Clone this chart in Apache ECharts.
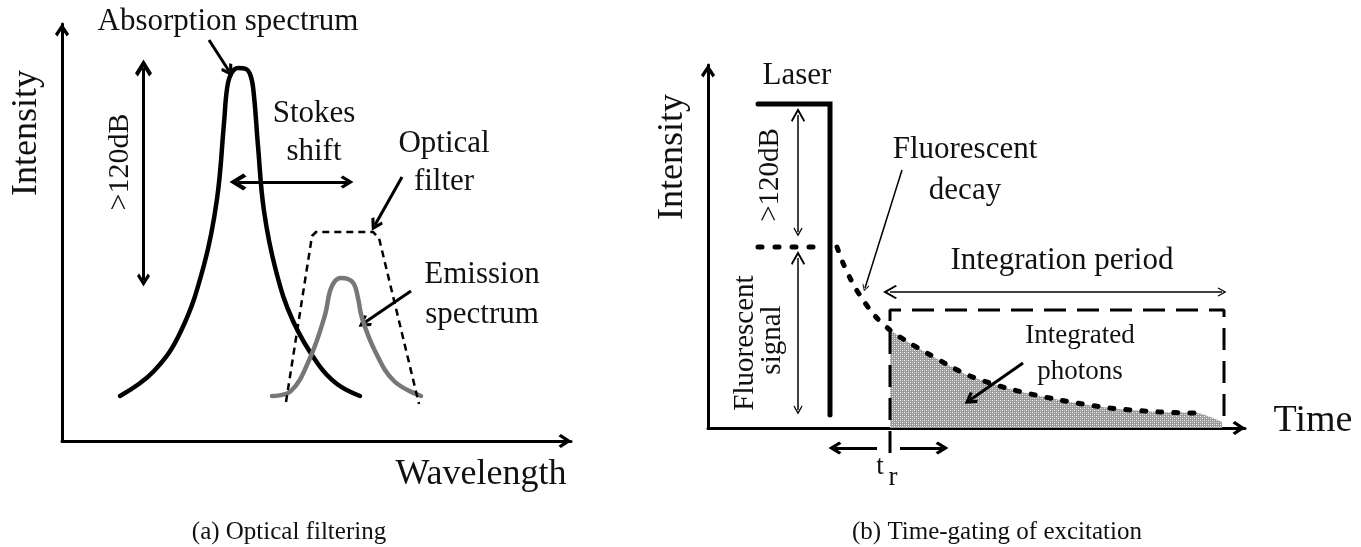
<!DOCTYPE html>
<html><head><meta charset="utf-8">
<script src="https://cdn.jsdelivr.net/npm/echarts@6/dist/echarts.min.js"></script>
<style>html,body{margin:0;padding:0;background:#fff}#c{width:1361px;height:547px}</style>
</head><body><div id="c"></div>
<script>
// ---------- Panel (a): Optical filtering (x = wavelength units, y = intensity units) ----------
const absorptionSpectrum = [[58,45],[92,70],[119,110],[142,176],[155,242],[162,318],[165,352],[169,367],[176,373],[184,372],[189,364],[192,345],[196,295],[202,230],[214,170],[231,120],[256,77],[275,57],[298,45]];
const emissionSpectrum = [[210,45],[229,50],[248,83],[263,126],[268,150],[273,160],[279,163],[286,162],[292,157],[296,143],[300,123],[313,90],[332,60],[359,45]];
const opticalFilter = [[224,39],[250,205],[254,209],[311,209],[317,203],[357,37]];
const pointerArrowsA = [[[147,401],[167,370]], [[340,264],[313,216]], [[349,150],[302,118]]];
const doubleArrowsA = [[[81.5,373],[81.5,161]], [[176,259],[285,259]]];
const labelsA = [["Absorption spectrum",166,419],["Stokes",252,327],["shift",252,289],["Optical",382,297],["filter",382,259],["Emission",420,166],["spectrum",420,126]];
const rotatedLabelsA = [[">120dB",58,279]];
const axisNamesA = {y:["Intensity",-35,308], x:["Wavelength",419,-34]};

// ---------- Panel (b): Time-gating (x = time units, y = intensity units) ----------
const laserPulse = [[50,324],[122,324],[122,13]];
const fluorescentLevel = [[50,181],[109,181]];
const fluorescentDecay = [[129,181],[135,165],[142,150],[148,139],[155,128],[167,112],[182,98],[200,86],[219,75],[240,63],[262,52],[302,39],[352,28],[402,20],[452,16],[489,15]];
const gateStart = 182, gateEnd = 516, gateTop = 118;
const integratedTail = [[514,6]];
const integrationWindow = [[gateStart,-25],[gateStart,gateTop],[gateEnd,gateTop],[gateEnd,0]];
const doubleArrowsB = [[[90,313],[90,196]], [[90,170],[90,18]], [[182,136],[514,136]]];
const thinPointersB = [[[194,258],[157,140]]];
const thickPointersB = [[[315,65],[262,28]], [[169,-20],[127,-20]], [[192,-20],[234,-20]]];
const labelsB = [["Laser",89,352],["Fluorescent",257,278],["decay",257,237],["Integration period",354,167]];
const smallLabelsB = [["Integrated",372,92],["photons",372,56]];
const rotatedLabelsB = [[">120dB",62,253],["Fluorescent",37,85],["signal",64,88]];
const axisNamesB = {y:["Intensity",-35,271], x:["Time",605,7]};
const gateLabel = [["t",172,-39],["r",185,-50]];
const captions = ["(a) Optical filtering", "(b) Time-gating of excitation"];

// ---------- drawing ----------
const FONT = '"Liberation Serif","Times New Roman",serif';
const INK = '#111';
const CHEV = 'path://M5,0L10,7.5L8.3,9.2L5,4.2L1.7,9.2L0,7.5Z';
const CHEV_THIN = 'path://M5,0L10,8L9.1,8.9L5,2.6L0.9,8.9L0,8Z';

const chart = echarts.init(document.getElementById('c'), null, {renderer:'canvas'});

function mkAxis(grid, max){
  return {gridIndex:grid, type:'value', min:0, max:max,
    axisLine:{show:true, onZero:false, symbol:['none',CHEV], symbolSize:[22,13], symbolOffset:[0,-6],
      lineStyle:{color:'#000', width:3}},
    axisTick:{show:false}, axisLabel:{show:false}, splitLine:{show:false}};
}
function curve(grid, data, style, smooth, extra){
  return Object.assign({type:'line', xAxisIndex:grid, yAxisIndex:grid, data:data, symbol:'none', smooth:smooth,
    clip:false, silent:true, lineStyle:style}, extra||{});
}
function arrows(grid, list, syms, style, size){
  return {type:'lines', coordinateSystem:'cartesian2d', xAxisIndex:grid, yAxisIndex:grid, clip:false, silent:true,
    symbol:syms, symbolSize:size, lineStyle:Object.assign({opacity:1, curveness:0}, style),
    data:list.map(c=>({coords:c}))};
}

// dotted pattern for integrated photons
const pat = document.createElement('canvas'); pat.width = 4; pat.height = 4;
const pc = pat.getContext('2d');
pc.fillStyle = '#9a9a9a'; pc.fillRect(0,0,4,4);
pc.fillStyle = '#f4f4f4'; pc.fillRect(0,0,1,1); pc.fillRect(2,2,1,1);
pc.fillStyle = '#d0d0d0'; pc.fillRect(2,0,1,1); pc.fillRect(0,2,1,1);

const shaded = fluorescentDecay.filter(p=>p[0]>=gateStart).concat(integratedTail);

chart.setOption({
  animation:false,
  backgroundColor:'#fff',
  grid:[{left:62, top:24, width:509, height:417},{left:708, top:65, width:537, height:363}],
  xAxis:[mkAxis(0,509), mkAxis(1,537)],
  yAxis:[mkAxis(0,417), mkAxis(1,363)],
  series:[
    curve(0, absorptionSpectrum, {color:'#000', width:4.5, cap:'round'}, 0.4),
    curve(0, emissionSpectrum, {color:'#777', width:4.5, cap:'round'}, 0.4),
    curve(0, opticalFilter, {color:'#000', width:2.5, type:[7,5]}, false),
    arrows(0, pointerArrowsA, ['none',CHEV], {color:'#000', width:3}, [17,13]),
    arrows(0, doubleArrowsA, [CHEV,CHEV], {color:'#000', width:3}, [17,13]),

    curve(1, shaded, {width:0, opacity:0}, 0.3, {areaStyle:{color:{image:pat, repeat:'repeat'}, opacity:1}, z:1}),
    curve(1, laserPulse, {color:'#000', width:5, join:'miter', cap:'round'}, false),
    curve(1, fluorescentLevel, {color:'#000', width:5, type:[4,13], cap:'round'}, false),
    curve(1, fluorescentDecay, {color:'#000', width:5, type:[4,12], cap:'round'}, 0.3),
    curve(1, integrationWindow, {color:'#000', width:3, type:[22,11]}, false),
    arrows(1, doubleArrowsB, [CHEV_THIN,CHEV_THIN], {color:'#000', width:1.5}, [14,9]),
    arrows(1, thinPointersB, ['none',CHEV_THIN], {color:'#000', width:1.5}, [10,7]),
    arrows(1, thickPointersB, ['none',CHEV], {color:'#000', width:3}, [18,13])
  ]
});

function txt(grid, item, size, rot){
  const p = chart.convertToPixel({gridIndex:grid}, [item[1], item[2]]);
  return {type:'text', x:p[0], y:p[1], rotation:rot||0, z:100,
    style:{text:item[0], fontSize:size, fontFamily:FONT, fill:INK,
      align:'center', verticalAlign:'middle', textAlign:'center', textVerticalAlign:'middle'}};
}
const g = [];
labelsA.forEach(l=>g.push(txt(0,l,31)));
rotatedLabelsA.forEach(l=>g.push(txt(0,l,30,Math.PI/2)));
g.push(txt(0,axisNamesA.y,36,Math.PI/2));
g.push(txt(0,axisNamesA.x,36));
labelsB.forEach(l=>g.push(txt(1,l,31)));
smallLabelsB.forEach(l=>g.push(txt(1,l,27)));
rotatedLabelsB.forEach(l=>g.push(txt(1,l,29,Math.PI/2)));
g.push(txt(1,axisNamesB.y,36,Math.PI/2));
g.push(txt(1,axisNamesB.x,38));
gateLabel.forEach(l=>g.push(txt(1,l,27)));
[[289,532],[997,532]].forEach((pos,i)=>g.push({type:'text', x:pos[0], y:pos[1], z:100,
  style:{text:captions[i], fontSize:25, fontFamily:FONT, fill:INK, align:'center', verticalAlign:'middle', textAlign:'center', textVerticalAlign:'middle'}}));
chart.setOption({graphic:{elements:g}});
</script>
</body></html>
